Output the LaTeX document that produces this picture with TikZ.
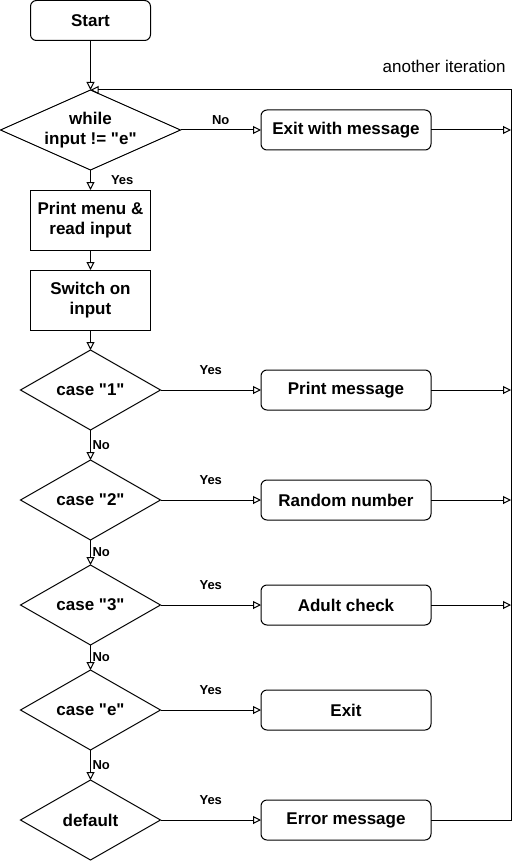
\documentclass[tikz,border=0pt]{standalone}
\usepackage{fontspec}
\setmainfont{Liberation Sans}
\usepackage{tikz}
\usetikzlibrary{arrows.meta,shapes.geometric}
\usepackage{xcolor}

\newcommand{\boxfont}{\fontsize{17}{20.5}\selectfont\bfseries}
\newcommand{\answerfont}{\fontsize{13}{15}\selectfont\bfseries}
\newcommand{\dq}{\textquotedbl}

\begin{document}
\begin{tikzpicture}[x=1pt,y=-1pt,->,>={Triangle[open,length=8pt,width=8pt]},
  line width=1pt,
  term/.style={rectangle,rounded corners=6pt,draw,font=\boxfont,
    minimum height=40pt,minimum width=170pt,inner sep=0pt,outer sep=0pt},
  proc/.style={rectangle,draw,font=\boxfont,align=center,
    minimum height=60pt,minimum width=120pt,inner sep=0pt,outer sep=0pt},
  decision/.style={diamond,draw,font=\boxfont,align=center,shape aspect=1.75,
    minimum height=80pt,minimum width=140pt,inner sep=0pt,outer sep=0pt},
  answer/.style={font=\answerfont,inner sep=0pt},
  note/.style={font=\boxfont\mdseries,inner sep=0pt}]

  \useasboundingbox (0,0) rectangle (521,861);

  \node[term,minimum width=120pt] (Start) at (90.5,20.5) {Start};
  \node[decision,shape aspect=2.25,minimum width=180pt] (While)
    [node distance=109.5pt, below of=Start] {while\\input != \dq e\dq};
  \node[proc] (Menu) [node distance=90pt, below of=While] {Print menu \&\\read input};
  \node[proc] (Switch) [node distance=80pt, below of=Menu] {Switch on\\input};
  \node[decision] (CaseOne) [node distance=90pt, below of=Switch] {case \dq 1\dq};
  \node[decision] (CaseTwo) [node distance=110pt, below of=CaseOne] {case \dq 2\dq};
  \node[decision] (CaseThree) [node distance=105pt, below of=CaseTwo] {case \dq 3\dq};
  \node[decision] (CaseE) [node distance=105pt, below of=CaseThree] {case \dq e\dq};
  \node[decision] (Default) [node distance=110pt, below of=CaseE] {default};

  \node[term] (ExitMsg) [node distance=255.5pt, right of=While] {Exit with message};
  \node[term] (PrintMsg) [node distance=255.5pt, right of=CaseOne] {Print message};
  \node[term] (Random) [node distance=255.5pt, right of=CaseTwo] {Random number};
  \node[term] (Adult) [node distance=255.5pt, right of=CaseThree] {Adult check};
  \node[term] (Exit) [node distance=255.5pt, right of=CaseE] {Exit};
  \node[term] (Error) [node distance=255.5pt, right of=Default] {Error message};

  \coordinate (rail) at (511,90);

  % main column
  \draw (Start) -- (While);
  \draw (While) -- node[answer,right=20pt] {Yes} (Menu);
  \draw (Menu) -- (Switch);
  \draw (Switch) -- (CaseOne);
  \draw (CaseOne) -- node[answer,right=1.5pt] {No} (CaseTwo);
  \draw (CaseTwo) -- node[answer,right=1.5pt] {No} (CaseThree);
  \draw (CaseThree) -- node[answer,right=1.5pt] {No} (CaseE);
  \draw (CaseE) -- node[answer,right=1.5pt] {No} (Default);

  % branches
  \draw (While) -- node[answer,above=5pt] {No} (ExitMsg);
  \draw (CaseOne) -- node[answer,above=15pt] {Yes} (PrintMsg);
  \draw (CaseTwo) -- node[answer,above=15pt] {Yes} (Random);
  \draw (CaseThree) -- node[answer,above=15pt] {Yes} (Adult);
  \draw (CaseE) -- node[answer,above=15pt] {Yes} (Exit);
  \draw (Default) -- node[answer,above=15pt] {Yes} (Error);

  % back to the loop
  \draw (ExitMsg) -- (ExitMsg -| rail);
  \draw (PrintMsg) -- (PrintMsg -| rail);
  \draw (Random) -- (Random -| rail);
  \draw (Adult) -- (Adult -| rail);
  \draw (Error) -- (Error -| rail) -- (rail)
    node[note,anchor=south east,xshift=-5pt,yshift=17pt] {another iteration}
    -- (While.north);
\end{tikzpicture}
\end{document}
